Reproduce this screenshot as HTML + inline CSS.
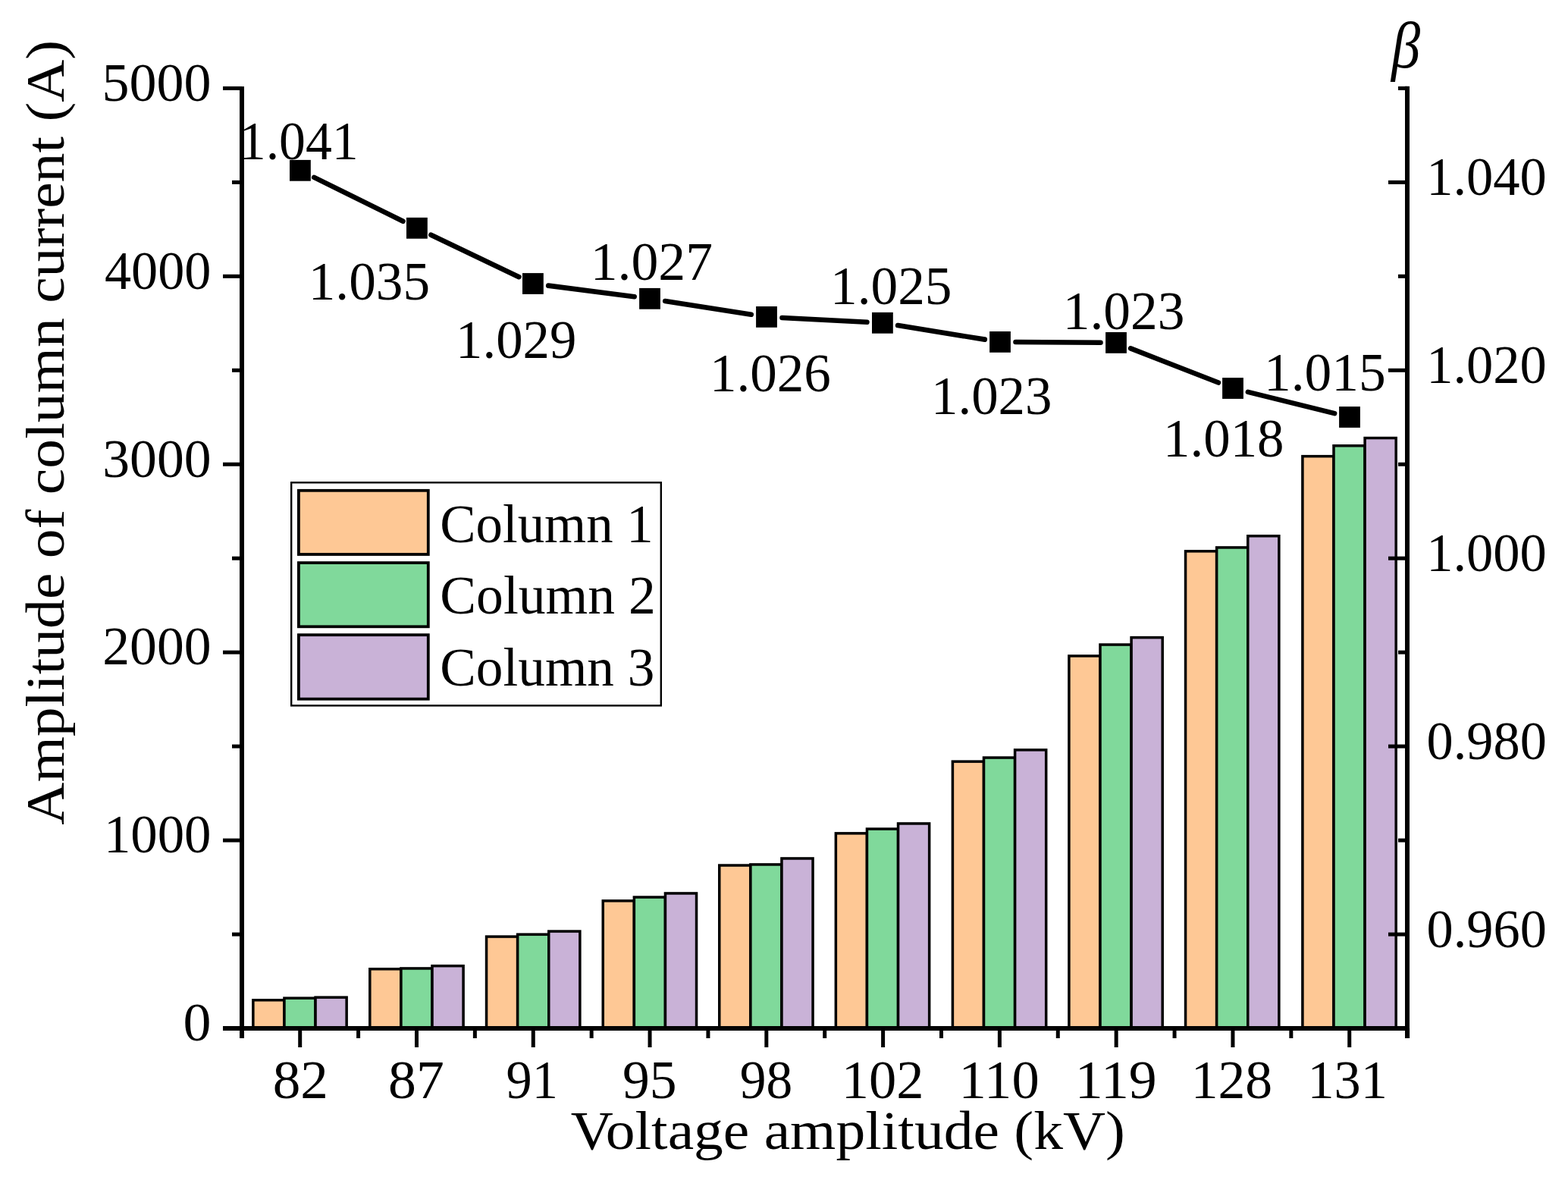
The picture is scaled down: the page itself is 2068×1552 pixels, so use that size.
<!DOCTYPE html>
<html lang="en"><head><meta charset="utf-8"><title>Column current vs voltage amplitude</title>
<style>html,body{margin:0;padding:0;background:#fff;overflow:hidden;}svg{display:block;}text{font-family:"Liberation Serif",serif;fill:#000;}</style></head><body>
<svg width="2068" height="1552" viewBox="0 0 2068 1552">
<rect x="0" y="0" width="2068" height="1552" fill="#fff"/>
<g id="bars" stroke="#000" stroke-width="3.5">
<rect x="333.85" y="1318.75" width="41.1" height="37.25" fill="#FEC895"/>
<rect x="374.95" y="1316.15" width="41.1" height="39.85" fill="#80D99B"/>
<rect x="416.05" y="1315.15" width="41.1" height="40.85" fill="#C9B2D7"/>
<rect x="487.8" y="1277.75" width="41.1" height="78.25" fill="#FEC895"/>
<rect x="528.9" y="1276.95" width="41.1" height="79.05" fill="#80D99B"/>
<rect x="570" y="1273.65" width="41.1" height="82.35" fill="#C9B2D7"/>
<rect x="641.55" y="1235.05" width="41.1" height="120.95" fill="#FEC895"/>
<rect x="682.65" y="1232.15" width="41.1" height="123.85" fill="#80D99B"/>
<rect x="723.75" y="1228.05" width="41.1" height="127.95" fill="#C9B2D7"/>
<rect x="795.25" y="1187.85" width="41.1" height="168.15" fill="#FEC895"/>
<rect x="836.35" y="1183.05" width="41.1" height="172.95" fill="#80D99B"/>
<rect x="877.45" y="1177.95" width="41.1" height="178.05" fill="#C9B2D7"/>
<rect x="948.75" y="1141.05" width="41.1" height="214.95" fill="#FEC895"/>
<rect x="989.85" y="1139.95" width="41.1" height="216.05" fill="#80D99B"/>
<rect x="1030.95" y="1131.95" width="41.1" height="224.05" fill="#C9B2D7"/>
<rect x="1102.35" y="1098.85" width="41.1" height="257.15" fill="#FEC895"/>
<rect x="1143.45" y="1093.05" width="41.1" height="262.95" fill="#80D99B"/>
<rect x="1184.55" y="1085.95" width="41.1" height="270.05" fill="#C9B2D7"/>
<rect x="1256.4" y="1004.15" width="41.1" height="351.85" fill="#FEC895"/>
<rect x="1297.5" y="999.05" width="41.1" height="356.95" fill="#80D99B"/>
<rect x="1338.6" y="988.85" width="41.1" height="367.15" fill="#C9B2D7"/>
<rect x="1409.9" y="864.95" width="41.1" height="491.05" fill="#FEC895"/>
<rect x="1451" y="850.05" width="41.1" height="505.95" fill="#80D99B"/>
<rect x="1492.1" y="840.65" width="41.1" height="515.35" fill="#C9B2D7"/>
<rect x="1563.55" y="726.85" width="41.1" height="629.15" fill="#FEC895"/>
<rect x="1604.65" y="721.95" width="41.1" height="634.05" fill="#80D99B"/>
<rect x="1645.75" y="706.75" width="41.1" height="649.25" fill="#C9B2D7"/>
<rect x="1717.9" y="601.65" width="41.1" height="754.35" fill="#FEC895"/>
<rect x="1759" y="587.75" width="41.1" height="768.25" fill="#80D99B"/>
<rect x="1800.1" y="577.55" width="41.1" height="778.45" fill="#C9B2D7"/>
</g>
<g id="axes" stroke="#000" fill="none">
<line x1="294" y1="1356" x2="319" y2="1356" stroke-width="5"/>
<line x1="294" y1="1108.08" x2="319" y2="1108.08" stroke-width="5"/>
<line x1="294" y1="860.16" x2="319" y2="860.16" stroke-width="5"/>
<line x1="294" y1="612.24" x2="319" y2="612.24" stroke-width="5"/>
<line x1="294" y1="364.32" x2="319" y2="364.32" stroke-width="5"/>
<line x1="294" y1="116.4" x2="319" y2="116.4" stroke-width="5"/>
<line x1="306" y1="1232.04" x2="319" y2="1232.04" stroke-width="5"/>
<line x1="306" y1="984.12" x2="319" y2="984.12" stroke-width="5"/>
<line x1="306" y1="736.2" x2="319" y2="736.2" stroke-width="5"/>
<line x1="306" y1="488.28" x2="319" y2="488.28" stroke-width="5"/>
<line x1="306" y1="240.36" x2="319" y2="240.36" stroke-width="5"/>
<line x1="1831" y1="1232.04" x2="1856" y2="1232.04" stroke-width="5"/>
<line x1="1831" y1="984.12" x2="1856" y2="984.12" stroke-width="5"/>
<line x1="1831" y1="736.2" x2="1856" y2="736.2" stroke-width="5"/>
<line x1="1831" y1="488.28" x2="1856" y2="488.28" stroke-width="5"/>
<line x1="1831" y1="240.36" x2="1856" y2="240.36" stroke-width="5"/>
<line x1="1844" y1="1108.08" x2="1856" y2="1108.08" stroke-width="5"/>
<line x1="1844" y1="860.16" x2="1856" y2="860.16" stroke-width="5"/>
<line x1="1844" y1="612.24" x2="1856" y2="612.24" stroke-width="5"/>
<line x1="1844" y1="364.32" x2="1856" y2="364.32" stroke-width="5"/>
<line x1="1844" y1="116.4" x2="1856" y2="116.4" stroke-width="5"/>
<line x1="395.7" y1="1356" x2="395.7" y2="1381" stroke-width="5"/>
<line x1="549.48" y1="1356" x2="549.48" y2="1381" stroke-width="5"/>
<line x1="703.26" y1="1356" x2="703.26" y2="1381" stroke-width="5"/>
<line x1="857.04" y1="1356" x2="857.04" y2="1381" stroke-width="5"/>
<line x1="1010.82" y1="1356" x2="1010.82" y2="1381" stroke-width="5"/>
<line x1="1164.6" y1="1356" x2="1164.6" y2="1381" stroke-width="5"/>
<line x1="1318.38" y1="1356" x2="1318.38" y2="1381" stroke-width="5"/>
<line x1="1472.16" y1="1356" x2="1472.16" y2="1381" stroke-width="5"/>
<line x1="1625.94" y1="1356" x2="1625.94" y2="1381" stroke-width="5"/>
<line x1="1779.72" y1="1356" x2="1779.72" y2="1381" stroke-width="5"/>
<line x1="318.81" y1="1356" x2="318.81" y2="1369" stroke-width="5"/>
<line x1="472.59" y1="1356" x2="472.59" y2="1369" stroke-width="5"/>
<line x1="626.37" y1="1356" x2="626.37" y2="1369" stroke-width="5"/>
<line x1="780.15" y1="1356" x2="780.15" y2="1369" stroke-width="5"/>
<line x1="933.93" y1="1356" x2="933.93" y2="1369" stroke-width="5"/>
<line x1="1087.71" y1="1356" x2="1087.71" y2="1369" stroke-width="5"/>
<line x1="1241.49" y1="1356" x2="1241.49" y2="1369" stroke-width="5"/>
<line x1="1395.27" y1="1356" x2="1395.27" y2="1369" stroke-width="5"/>
<line x1="1549.05" y1="1356" x2="1549.05" y2="1369" stroke-width="5"/>
<line x1="1702.83" y1="1356" x2="1702.83" y2="1369" stroke-width="5"/>
<line x1="1856.61" y1="1356" x2="1856.61" y2="1369" stroke-width="5"/>
<line x1="294" y1="1356" x2="1859" y2="1356" stroke-width="6"/>
<line x1="319" y1="114.1" x2="319" y2="1369" stroke-width="6"/>
<line x1="1856" y1="113.8" x2="1856" y2="1369" stroke-width="6"/>
</g>
<g id="line" stroke="#000" stroke-width="6.6" stroke-linecap="round" fill="none">
<line x1="414.28" y1="233.87" x2="531.52" y2="291.73"/>
<line x1="568.39" y1="309.65" x2="684.41" y2="365.15"/>
<line x1="723.23" y1="376.61" x2="836.67" y2="391.19"/>
<line x1="877.25" y1="396.97" x2="990.75" y2="414.73"/>
<line x1="1031.47" y1="418.96" x2="1143.43" y2="424.74"/>
<line x1="1184.14" y1="429.07" x2="1298.76" y2="447.63"/>
<line x1="1339.5" y1="451.03" x2="1451.5" y2="451.77"/>
<line x1="1491.1" y1="459.35" x2="1606.9" y2="504.55"/>
<line x1="1645.9" y1="516.91" x2="1760.1" y2="545.09"/>
</g>
<g id="markers" fill="#000">
<rect x="382" y="210.9" width="27.8" height="27.8"/>
<rect x="536" y="286.9" width="27.8" height="27.8"/>
<rect x="689" y="360.1" width="27.8" height="27.8"/>
<rect x="843.1" y="379.9" width="27.8" height="27.8"/>
<rect x="997.1" y="404" width="27.8" height="27.8"/>
<rect x="1150" y="411.9" width="27.8" height="27.8"/>
<rect x="1305.1" y="437" width="27.8" height="27.8"/>
<rect x="1458.1" y="438" width="27.8" height="27.8"/>
<rect x="1612.1" y="498.1" width="27.8" height="27.8"/>
<rect x="1766.1" y="536.1" width="27.8" height="27.8"/>
</g>
<g id="legend">
<rect x="384.2" y="636.3" width="487.6" height="294.1" fill="#fff" stroke="#000" stroke-width="2.4"/>
<rect x="393.9" y="646.8" width="170.9" height="84.2" fill="#FEC895" stroke="#000" stroke-width="3.8"/>
<rect x="393.9" y="742.1" width="170.9" height="84.2" fill="#80D99B" stroke="#000" stroke-width="3.8"/>
<rect x="393.9" y="837.2" width="170.9" height="84.5" fill="#C9B2D7" stroke="#000" stroke-width="3.8"/>
</g>
<g id="texts">
<text id="l0" font-size="72" x="241.62" y="1372.3" textLength="36.96" lengthAdjust="spacingAndGlyphs">0</text>
<text id="l1" font-size="72" x="136.9" y="1124.38" textLength="141.55" lengthAdjust="spacingAndGlyphs">1000</text>
<text id="l2" font-size="72" x="135.32" y="876.46" textLength="143.17" lengthAdjust="spacingAndGlyphs">2000</text>
<text id="l3" font-size="72" x="135.32" y="628.54" textLength="143.17" lengthAdjust="spacingAndGlyphs">3000</text>
<text id="l4" font-size="72" x="138.03" y="380.62" textLength="140.4" lengthAdjust="spacingAndGlyphs">4000</text>
<text id="l5" font-size="72" x="134.6" y="132.7" textLength="143.89" lengthAdjust="spacingAndGlyphs">5000</text>
<text id="r0" font-size="72" x="1881.57" y="1248.84" textLength="158.26" lengthAdjust="spacingAndGlyphs">0.960</text>
<text id="r1" font-size="72" x="1881.57" y="1000.92" textLength="158.26" lengthAdjust="spacingAndGlyphs">0.980</text>
<text id="r2" font-size="72" x="1881.23" y="753" textLength="158.61" lengthAdjust="spacingAndGlyphs">1.000</text>
<text id="r3" font-size="72" x="1881.23" y="505.08" textLength="158.61" lengthAdjust="spacingAndGlyphs">1.020</text>
<text id="r4" font-size="72" x="1881.23" y="257.16" textLength="158.61" lengthAdjust="spacingAndGlyphs">1.040</text>
<text id="x0" font-size="72" x="359.75" y="1447.8" textLength="73.22" lengthAdjust="spacingAndGlyphs">82</text>
<text id="x1" font-size="72" x="512.03" y="1447.8" textLength="73.72" lengthAdjust="spacingAndGlyphs">87</text>
<text id="x2" font-size="72" x="667.5" y="1447.8" textLength="68.29" lengthAdjust="spacingAndGlyphs">91</text>
<text id="x3" font-size="72" x="821.01" y="1447.8" textLength="71.57" lengthAdjust="spacingAndGlyphs">95</text>
<text id="x4" font-size="72" x="975.87" y="1447.8" textLength="69.42" lengthAdjust="spacingAndGlyphs">98</text>
<text id="x5" font-size="72" x="1109.86" y="1447.8" textLength="108.66" lengthAdjust="spacingAndGlyphs">102</text>
<text id="x6" font-size="72" x="1264.56" y="1447.8" textLength="106.1" lengthAdjust="spacingAndGlyphs">110</text>
<text id="x7" font-size="72" x="1417.75" y="1447.8" textLength="107.96" lengthAdjust="spacingAndGlyphs">119</text>
<text id="x8" font-size="72" x="1570.73" y="1447.8" textLength="107.45" lengthAdjust="spacingAndGlyphs">128</text>
<text id="x9" font-size="72" x="1724.44" y="1447.8" textLength="105.47" lengthAdjust="spacingAndGlyphs">131</text>
<text id="d0" font-size="72" x="315.79" y="209.5" textLength="156.88" lengthAdjust="spacingAndGlyphs">1.041</text>
<text id="d1" font-size="72" x="406.76" y="395.4" textLength="160.31" lengthAdjust="spacingAndGlyphs">1.035</text>
<text id="d2" font-size="72" x="601.11" y="471.8" textLength="159.14" lengthAdjust="spacingAndGlyphs">1.029</text>
<text id="d3" font-size="72" x="778.73" y="368.5" textLength="161.26" lengthAdjust="spacingAndGlyphs">1.027</text>
<text id="d4" font-size="72" x="935.88" y="515.5" textLength="159.79" lengthAdjust="spacingAndGlyphs">1.026</text>
<text id="d5" font-size="72" x="1095.06" y="400.9" textLength="160.41" lengthAdjust="spacingAndGlyphs">1.025</text>
<text id="d6" font-size="72" x="1227.99" y="545.5" textLength="159.46" lengthAdjust="spacingAndGlyphs">1.023</text>
<text id="d7" font-size="72" x="1401.75" y="434.1" textLength="160.73" lengthAdjust="spacingAndGlyphs">1.023</text>
<text id="d8" font-size="72" x="1534.09" y="602" textLength="159.46" lengthAdjust="spacingAndGlyphs">1.018</text>
<text id="d9" font-size="72" x="1666.95" y="515.3" textLength="160.73" lengthAdjust="spacingAndGlyphs">1.015</text>
<text id="g0" font-size="72" x="580.35" y="715" textLength="281.42" lengthAdjust="spacingAndGlyphs">Column 1</text>
<text id="g1" font-size="72" x="580.32" y="808.6" textLength="284.49" lengthAdjust="spacingAndGlyphs">Column 2</text>
<text id="g2" font-size="72" x="580.33" y="904.4" textLength="283.07" lengthAdjust="spacingAndGlyphs">Column 3</text>
<text id="xtitle" font-size="72" x="752.72" y="1515.2" textLength="731.07" lengthAdjust="spacingAndGlyphs">Voltage amplitude (kV)</text>
<text id="ytitle" font-size="72" transform="translate(83.5,1086.6) rotate(-90)" x="-1.08" y="0" textLength="1034.83" lengthAdjust="spacingAndGlyphs">Amplitude of column current (A)</text>
<text id="beta" font-size="86" font-style="italic" x="1834.89" y="88.9" textLength="38.07" lengthAdjust="spacingAndGlyphs">&#946;</text>
</g>
</svg></body></html>
